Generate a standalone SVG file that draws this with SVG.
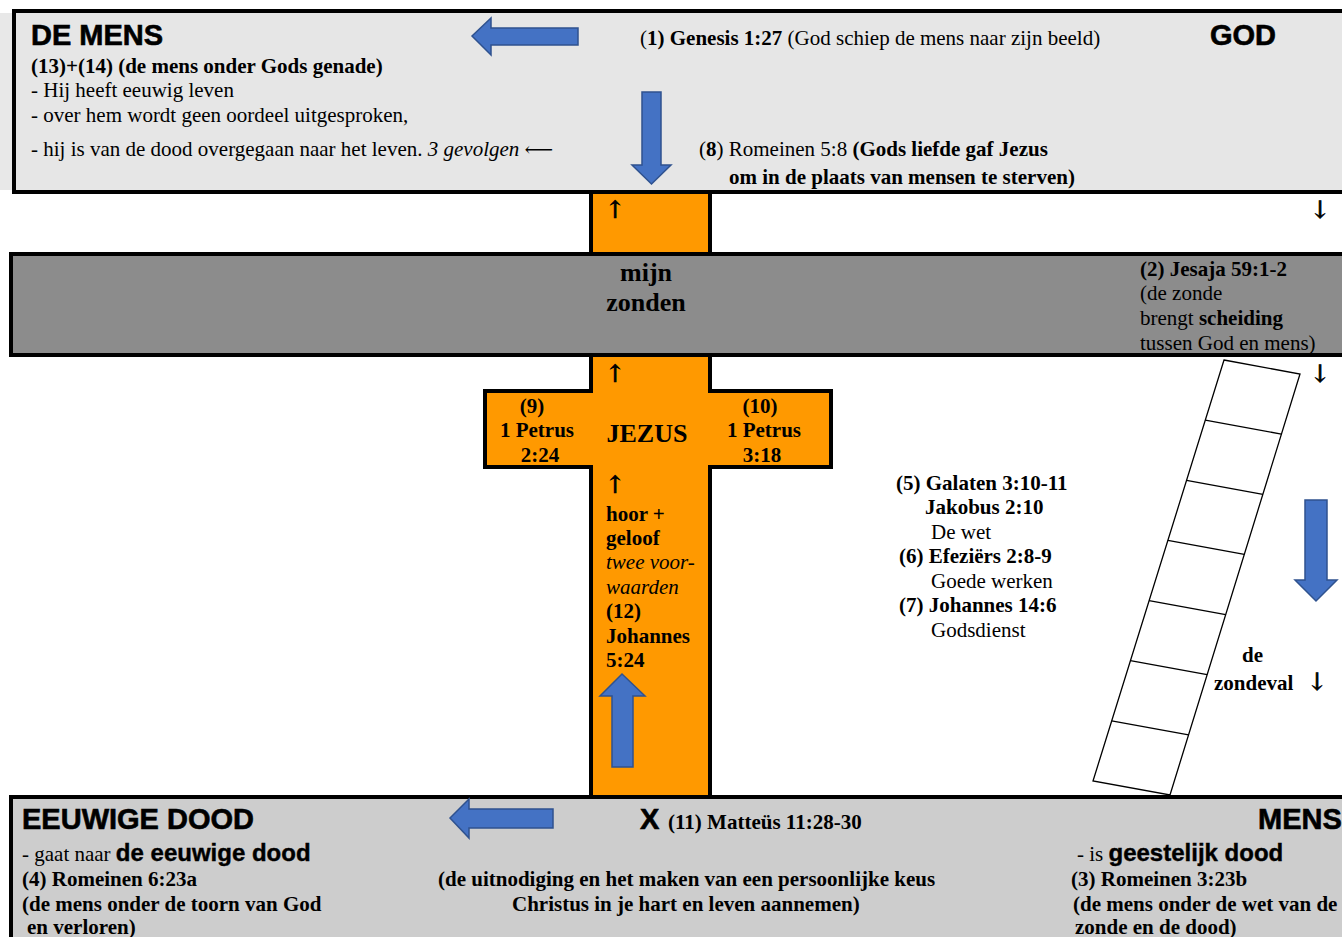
<svg xmlns="http://www.w3.org/2000/svg" width="1342" height="937" viewBox="0 0 1342 937">
<style>
.s{font-family:"Liberation Serif","Times New Roman",serif;font-size:21px;fill:#000}
.b{font-weight:bold}
.i{font-style:italic}
.big{font-size:26px}
.h{font-family:"Liberation Sans",Arial,sans-serif;font-weight:bold;font-size:29px;fill:#000;stroke:#000;stroke-width:0.6}
.hs{font-family:"Liberation Sans",Arial,sans-serif;font-weight:bold;font-size:24px;stroke:#000;stroke-width:0.4}
.ar{font-family:"DejaVu Serif","Liberation Serif",serif;font-size:24px;fill:#000;stroke:#000;stroke-width:0.7}
.box{stroke:#000;stroke-width:4}
.blue{fill:#4472C4;stroke:#2F528F;stroke-width:1.5}
.c{text-anchor:middle}
</style>
<rect width="1342" height="937" fill="#fff"/>
<rect x="0" y="13" width="12" height="177" fill="#e8e8e8"/>

<g id="cross">
<rect x="591" y="190" width="119" height="66" fill="#FF9900" class="box"/>
<polygon points="591,355 710,355 710,391 831,391 831,467 710,467 710,797 591,797 591,467 485,467 485,391 591,391" fill="#FF9900" class="box"/>
</g>

<g id="god-box">
<rect x="14" y="11" width="1340" height="181" fill="#e6e6e6" class="box"/>
<text x="31" y="45" class="h">DE MENS</text>
<text x="31" y="73" class="s b">(13)+(14) (de mens onder Gods genade)</text>
<text x="31" y="97" class="s">- Hij heeft eeuwig leven</text>
<text x="31" y="122" class="s">- over hem wordt geen oordeel uitgesproken,</text>
<text x="31" y="156" class="s">- hij is van de dood overgegaan naar het leven. <tspan class="i">3 gevolgen</tspan> <tspan font-family="'DejaVu Serif',serif" font-size="20">⟵</tspan></text>
<text x="640" y="45" class="s">(<tspan class="b">1) Genesis 1:27</tspan> (God schiep de mens naar zijn beeld)</text>
<text x="1210" y="45" class="h">GOD</text>
<text x="699" y="156" class="s">(<tspan class="b">8</tspan>) Romeinen 5:8 <tspan class="b">(Gods liefde gaf Jezus</tspan></text>
<text x="729" y="184" class="s b">om in de plaats van mensen te sterven)</text>
</g>

<g id="sin-band">
<rect x="11" y="254" width="1340" height="101" fill="#8c8c8c" class="box"/>
<text x="646" y="281" class="s b c big">mijn</text>
<text x="646" y="311" class="s b c big">zonden</text>
<text x="1140" y="276" class="s b">(2) Jesaja 59:1-2</text>
<text x="1140" y="300" class="s">(de zonde</text>
<text x="1140" y="325" class="s">brengt <tspan class="b">scheiding</tspan></text>
<text x="1140" y="350" class="s">tussen God en mens)</text>
</g>

<g id="jezus">
<text x="605" y="218" class="ar">↑</text>
<text x="605" y="382" class="ar">↑</text>
<text x="605" y="493" class="ar">↑</text>
<text x="532" y="413" class="s b c">(9)</text>
<text x="537" y="437" class="s b c">1 Petrus</text>
<text x="540" y="462" class="s b c">2:24</text>
<text x="647" y="442" class="s b c big">JEZUS</text>
<text x="760" y="413" class="s b c">(10)</text>
<text x="764" y="437" class="s b c">1 Petrus</text>
<text x="762" y="462" class="s b c">3:18</text>
<text x="606" y="521" class="s b">hoor +</text>
<text x="606" y="545" class="s b">geloof</text>
<text x="606" y="569" class="s i">twee voor-</text>
<text x="606" y="594" class="s i">waarden</text>
<text x="606" y="618" class="s b">(12)</text>
<text x="606" y="643" class="s b">Johannes</text>
<text x="606" y="667" class="s b">5:24</text>
</g>

<g id="ladder" fill="none" stroke="#000" stroke-width="1.3">
<polygon points="1224,360 1300,374 1170,795 1093,781" fill="#fff"/>
<line x1="1205.3" y1="420.1" x2="1281.4" y2="434.1"/>
<line x1="1186.6" y1="480.3" x2="1262.9" y2="494.3"/>
<line x1="1167.9" y1="540.4" x2="1244.3" y2="554.4"/>
<line x1="1149.1" y1="600.6" x2="1225.7" y2="614.6"/>
<line x1="1130.4" y1="660.7" x2="1207.1" y2="674.7"/>
<line x1="1111.7" y1="720.9" x2="1188.6" y2="734.9"/>
</g>

<g id="ways">
<text x="896" y="490" class="s b">(5) Galaten 3:10-11</text>
<text x="925" y="514" class="s b">Jakobus 2:10</text>
<text x="931" y="539" class="s">De wet</text>
<text x="899" y="563" class="s b">(6) Efeziërs 2:8-9</text>
<text x="931" y="588" class="s">Goede werken</text>
<text x="899" y="612" class="s b">(7) Johannes 14:6</text>
<text x="931" y="637" class="s">Godsdienst</text>
</g>

<g id="fall">
<text x="1310" y="218" class="ar">↓</text>
<text x="1310" y="382" class="ar">↓</text>
<text x="1242" y="662" class="s b">de</text>
<text x="1214" y="690" class="s b">zondeval</text>
<text x="1307" y="690" class="ar">↓</text>
</g>

<g id="death-box">
<rect x="11" y="797" width="1340" height="150" fill="#cdcdcd" class="box"/>
<text x="22" y="829" class="h">EEUWIGE DOOD</text>
<text x="22" y="861" class="s">- gaat naar <tspan class="hs">de eeuwige dood</tspan></text>
<text x="22" y="886" class="s b">(4) Romeinen 6:23a</text>
<text x="22" y="911" class="s b">(de mens onder de toorn van God</text>
<text x="27" y="934" class="s b">en verloren)</text>
<text x="640" y="829" class="h">X</text>
<text x="668" y="829" class="s b">(11) Matteüs 11:28-30</text>
<text x="438" y="886" class="s b">(de uitnodiging en het maken van een persoonlijke keus</text>
<text x="512" y="911" class="s b">Christus in je hart en leven aannemen)</text>
<text x="1258" y="829" class="h">MENS</text>
<text x="1077" y="861" class="s">- is <tspan class="hs">geestelijk dood</tspan></text>
<text x="1071" y="886" class="s b">(3) Romeinen 3:23b</text>
<text x="1073" y="911" class="s b">(de mens onder de wet van de</text>
<text x="1075" y="934" class="s b">zonde en de dood)</text>
</g>

<g id="connectors">
<polygon class="blue" points="472,36 491,18 491,28 578,28 578,45 491,45 491,55"/>
<polygon class="blue" points="642,92 661,92 661,165 671,165 651.5,184 632,165 642,165"/>
<polygon class="blue" points="622,674 645,696 633,696 633,767 612,767 612,696 600,696"/>
<polygon class="blue" points="1305,500 1327,500 1327,580 1337,580 1316,601 1295,580 1305,580"/>
<polygon class="blue" points="450,818 469,799 469,809 553,809 553,828 469,828 469,838"/>
</g>
</svg>
